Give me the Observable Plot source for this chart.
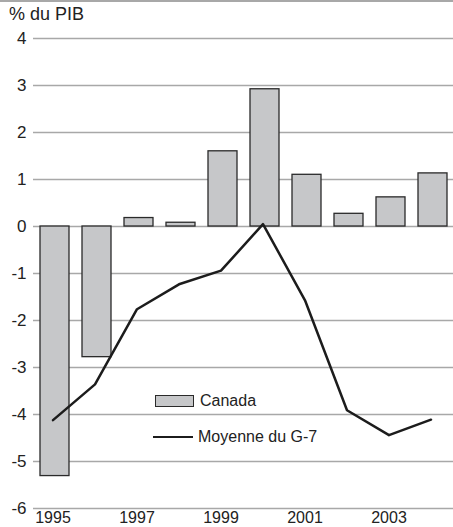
<!DOCTYPE html>
<html>
<head>
<meta charset="utf-8">
<script src="https://cdn.jsdelivr.net/npm/d3@7"></script>
<script src="https://cdn.jsdelivr.net/npm/@observablehq/plot@0.6"></script>
<style>
  html, body { margin: 0; padding: 0; background: #fff; }
  body { font-family: "Liberation Sans", Arial, sans-serif; color: #222; }
  #wrap { position: relative; width: 453px; height: 527px; overflow: hidden; }
  #wrap svg { position: absolute; left: 0; top: 0; }
  .topline { position: absolute; left: 0; top: 0; width: 453px; height: 1.5px; background: #a8a8a8; }
  .title { position: absolute; left: 9px; top: 3px; font-size: 18px; line-height: 22px; }
  .legend-item { position: absolute; font-size: 16px; line-height: 18px; display: flex; align-items: center; }
  .swatch-bar { width: 37px; height: 10px; background: #c6c7c9; border: 1.3px solid #2a2a2a; margin-right: 6px; }
  .swatch-line { width: 40px; height: 2.5px; background: #1c1c1c; margin-right: 5px; }
</style>
</head>
<body>
<div id="wrap">
  <div class="topline"></div>
  <div class="title">% du PIB</div>
  <div class="legend-item" style="left:155px; top:392px;"><span class="swatch-bar"></span>Canada</div>
  <div class="legend-item" style="left:153px; top:428px;"><span class="swatch-line"></span>Moyenne du G-7</div>
</div>
<script>
// Solde budgétaire, en % du PIB
const years = [1995, 1996, 1997, 1998, 1999, 2000, 2001, 2002, 2003, 2004];
const canada = [-5.31, -2.78, 0.18, 0.08, 1.60, 2.92, 1.10, 0.27, 0.62, 1.13];
const g7 = [-4.12, -3.36, -1.76, -1.23, -0.94, 0.05, -1.57, -3.91, -4.44, -4.11];
const yTicks = [-6, -5, -4, -3, -2, -1, 0, 1, 2, 3, 4];
const xTicks = [1995, 1997, 1999, 2001, 2003];

const rows = years.map((year, i) => ({year, canada: canada[i], g7: g7[i]}));

const chart = Plot.plot({
  width: 453,
  height: 527,
  marginTop: 38,
  marginBottom: 19,
  marginLeft: 33,
  marginRight: 0,
  style: {fontFamily: "'Liberation Sans', Arial, sans-serif", color: "#222", background: "transparent", overflow: "visible"},
  x: {type: "band", domain: years, paddingInner: 0.32, paddingOuter: 0.16, axis: null},
  y: {domain: [-6, 4], axis: null},
  marks: [
    Plot.ruleY(yTicks, {stroke: "#a8a8a8", strokeWidth: 1.3}),
    Plot.barY(rows, {x: "year", y1: 0, y2: "canada", fill: "#c6c7c9", stroke: "#2a2a2a", strokeWidth: 1.3}),
    Plot.lineY(rows, {x: "year", y: "g7", stroke: "#1c1c1c", strokeWidth: 2.5, dx: -2}),
    Plot.axisY(yTicks, {tickSize: 0, tickPadding: 7, fontSize: 17, label: null, tickFormat: d => String(d)}),
    Plot.axisX(xTicks, {tickSize: 0, tickPadding: 3, fontSize: 16, dx: -2, label: null, tickFormat: d => String(d)})
  ]
});

document.getElementById("wrap").prepend(chart);
</script>
</body>
</html>
